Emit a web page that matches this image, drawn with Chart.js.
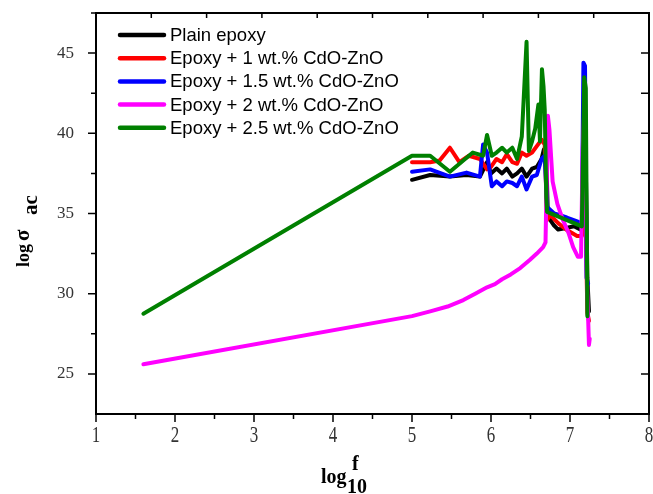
<!DOCTYPE html>
<html>
<head>
<meta charset="utf-8">
<script src="https://cdn.jsdelivr.net/npm/chart.js@4/dist/chart.umd.min.js"></script>
<style>
  html, body { margin: 0; padding: 0; background: #fff; }
  #wrap { width: 653px; height: 494px; }
</style>
</head>
<body>
<div id="wrap"><canvas id="chart" width="653" height="494"></canvas></div>
<script>
// axis ticks
const xTicks = [1, 2, 3, 4, 5, 6, 7, 8];
const yTicks = [25, 30, 35, 40, 45];

// series labels and colours
const seriesLabels = ['Plain epoxy', 'Epoxy + 1 wt.% CdO-ZnO', 'Epoxy + 1.5 wt.% CdO-ZnO', 'Epoxy + 2 wt.% CdO-ZnO', 'Epoxy + 2.5 wt.% CdO-ZnO'];
const seriesColors = ['#000000', '#ff0000', '#0000ff', '#ff00ff', '#008000'];

// Plain epoxy
const plainX = [5.0, 5.23, 5.48, 5.69, 5.86, 5.95, 6.0, 6.07, 6.14, 6.2, 6.27, 6.33, 6.39, 6.45, 6.52, 6.58, 6.64, 6.67, 6.70, 6.72, 6.79, 6.85, 6.95, 7.05, 7.13, 7.17, 7.2, 7.22, 7.24];
const plainY = [37.1, 37.4, 37.3, 37.4, 37.3, 38.2, 37.5, 37.8, 37.5, 37.8, 37.3, 37.5, 37.8, 37.3, 37.8, 37.9, 38.4, 39.0, 38.6, 34.8, 34.3, 34.0, 34.1, 34.2, 34.0, 34.2, 38.0, 31.0, 28.9];

// Epoxy + 1 wt.%
const epoxy1X = [5.0, 5.23, 5.35, 5.48, 5.6, 5.72, 5.86, 5.95, 6.0, 6.07, 6.14, 6.2, 6.27, 6.33, 6.39, 6.45, 6.52, 6.58, 6.64, 6.68, 6.71, 6.75, 6.85, 6.95, 7.09, 7.15, 7.19, 7.22, 7.24];
const epoxy1Y = [38.2, 38.2, 38.3, 39.1, 38.2, 38.6, 38.4, 37.75, 37.9, 38.4, 38.2, 38.7, 38.2, 38.1, 38.8, 38.6, 38.8, 39.2, 39.6, 39.3, 34.6, 34.9, 34.4, 34.0, 33.6, 33.6, 36.5, 28.8, 28.3];

// Epoxy + 1.5 wt.%
const epoxy15X = [5.0, 5.23, 5.48, 5.69, 5.86, 5.9, 5.95, 6.01, 6.07, 6.14, 6.2, 6.27, 6.33, 6.39, 6.45, 6.52, 6.58, 6.64, 6.68, 6.71, 6.8, 6.96, 7.1, 7.15, 7.17, 7.19, 7.21, 7.23];
const epoxy15Y = [37.6, 37.75, 37.3, 37.55, 37.3, 39.3, 38.8, 36.7, 37.0, 36.7, 37.0, 36.9, 36.7, 37.3, 36.5, 37.3, 37.4, 38.4, 38.6, 35.4, 35.0, 34.75, 34.5, 34.3, 44.4, 44.2, 31.0, 30.6];

// Epoxy + 2 wt.%
const epoxy2X = [1.6, 5.0, 5.23, 5.45, 5.65, 5.8, 5.95, 6.05, 6.14, 6.25, 6.37, 6.49, 6.58, 6.66, 6.69, 6.72, 6.74, 6.78, 6.84, 6.91, 6.98, 7.04, 7.1, 7.14, 7.16, 7.18, 7.22, 7.24, 7.25];
const epoxy2Y = [25.6, 28.6, 28.9, 29.2, 29.6, 30.0, 30.4, 30.6, 30.9, 31.2, 31.6, 32.1, 32.5, 32.9, 33.2, 41.1, 40.2, 37.0, 35.6, 34.6, 33.8, 32.9, 32.3, 32.3, 39.0, 41.3, 30.0, 26.8, 27.2];

// Epoxy + 2.5 wt.%
const epoxy25X = [1.6, 5.0, 5.23, 5.48, 5.77, 5.9, 5.95, 6.01, 6.07, 6.14, 6.2, 6.27, 6.33, 6.39, 6.45, 6.48, 6.52, 6.56, 6.6, 6.62, 6.645, 6.665, 6.68, 6.70, 6.71, 7.15, 7.18, 7.2, 7.22];
const epoxy25Y = [28.75, 38.6, 38.6, 37.6, 38.8, 38.6, 39.9, 38.6, 38.8, 39.1, 38.8, 39.1, 38.4, 39.8, 45.7, 38.9, 39.5, 40.3, 41.8, 39.5, 44.0, 42.9, 41.5, 36.0, 35.1, 34.2, 43.5, 42.8, 28.6];

const seriesX = [plainX, epoxy1X, epoxy15X, epoxy2X, epoxy25X];
const seriesY = [plainY, epoxy1Y, epoxy15Y, epoxy2Y, epoxy25Y];

const datasets = seriesLabels.map((label, i) => ({
    label: label,
    data: seriesX[i].map((x, j) => ({ x: x, y: seriesY[i][j] })),
    borderColor: seriesColors[i],
    backgroundColor: seriesColors[i],
    borderWidth: 4,
    showLine: true,
    pointRadius: 0,
    tension: 0,
    borderJoinStyle: 'round',
    borderCapStyle: 'round',
    order: seriesLabels.length - i   // green drawn on top
}));

const serif = '"Liberation Serif", "Times New Roman", serif';
const sans = '"Liberation Sans", Arial, sans-serif';

// frame, ticks, x labels, axis titles and legend
const decorations = {
    id: 'decorations',
    afterDraw(chart) {
        const ctx = chart.ctx;
        const a = chart.chartArea;
        const xs = chart.scales.x;
        const ys = chart.scales.y;
        ctx.save();
        ctx.strokeStyle = '#000';
        ctx.lineWidth = 2;
        ctx.strokeRect(a.left, a.top, a.right - a.left, a.bottom - a.top);

        ctx.lineWidth = 1.5;
        ctx.beginPath();
        // bottom ticks (outward)
        for (let v = 1; v <= 8; v += 0.5) {
            const px = xs.getPixelForValue(v);
            const len = Number.isInteger(v) ? 8 : 5;
            ctx.moveTo(px, a.bottom);
            ctx.lineTo(px, a.bottom + len);
        }
        // left ticks (outward) and right ticks (inward)
        for (let v = 25; v <= 47.5; v += 2.5) {
            const py = ys.getPixelForValue(v);
            const len = v % 5 === 0 ? 8 : 5;
            ctx.moveTo(a.left, py);
            ctx.lineTo(a.left - len, py);
            ctx.moveTo(a.right, py);
            ctx.lineTo(a.right - 8, py);
        }
        // top ticks (inward), ten divisions
        for (let k = 1; k < 10; k++) {
            const px = a.left + (a.right - a.left) * k / 10;
            ctx.moveTo(px, a.top);
            ctx.lineTo(px, a.top + 5);
        }
        ctx.stroke();

        // x tick labels (tall)
        ctx.fillStyle = '#333';
        ctx.font = '17px ' + serif;
        ctx.textAlign = 'center';
        ctx.textBaseline = 'alphabetic';
        xs.ticks.forEach(t => {
            const px = xs.getPixelForValue(t.value);
            ctx.save();
            ctx.translate(px, a.bottom + 28);
            ctx.scale(1, 1.4);
            ctx.fillText(String(t.value), 0, 0);
            ctx.restore();
        });

        // x title: log10 f
        ctx.fillStyle = '#000';
        ctx.textAlign = 'left';
        ctx.font = 'bold 20px ' + serif;
        ctx.fillText('log', 321, 483);
        ctx.fillText('10', 347, 493);
        ctx.fillText('f', 352, 470);

        // y title: log σac
        ctx.save();
        ctx.translate(29, 267);
        ctx.rotate(-Math.PI / 2);
        ctx.font = 'bold 18px ' + serif;
        ctx.fillText('log', 0, 0);
        ctx.font = 'bold 21px ' + serif;
        ctx.fillText('σ', 26, 0);
        ctx.font = 'bold 21px ' + serif;
        ctx.fillText('ac', 52, 8);
        ctx.restore();

        // legend
        ctx.font = '18.5px ' + sans;
        ctx.textBaseline = 'middle';
        chart.data.datasets.forEach((ds, i) => {
            const y = 35 + i * 23.2;
            ctx.strokeStyle = ds.borderColor;
            ctx.lineWidth = 4.5;
            ctx.lineCap = 'round';
            ctx.beginPath();
            ctx.moveTo(120, y);
            ctx.lineTo(164, y);
            ctx.stroke();
            ctx.fillStyle = '#000';
            ctx.fillText(ds.label, 170, y + 1);
        });
        ctx.restore();
    }
};

new Chart(document.getElementById('chart'), {
    type: 'scatter',
    data: { datasets: datasets },
    options: {
        responsive: false,
        animation: false,
        devicePixelRatio: 1,
        layout: { padding: { top: 13, right: 4, left: 0, bottom: 0 } },
        plugins: {
            legend: { display: false },
            tooltip: { enabled: false }
        },
        scales: {
            x: {
                type: 'linear',
                min: 1,
                max: 8,
                afterBuildTicks: s => { s.ticks = xTicks.map(v => ({ value: v })); },
                afterFit: s => { s.height = 80; s.paddingLeft = 0; s.paddingRight = 0; },
                ticks: { display: false },
                grid: { display: false },
                border: { display: false }
            },
            y: {
                type: 'linear',
                min: 22.5,
                max: 47.5,
                afterBuildTicks: s => { s.ticks = yTicks.map(v => ({ value: v })); },
                afterFit: s => { s.width = 96; s.paddingTop = 0; s.paddingBottom = 0; },
                ticks: {
                    color: '#333',
                    padding: 14,
                    font: { family: serif, size: 17 }
                },
                grid: { display: false },
                border: { display: false }
            }
        }
    },
    plugins: [decorations]
});
</script>
</body>
</html>
